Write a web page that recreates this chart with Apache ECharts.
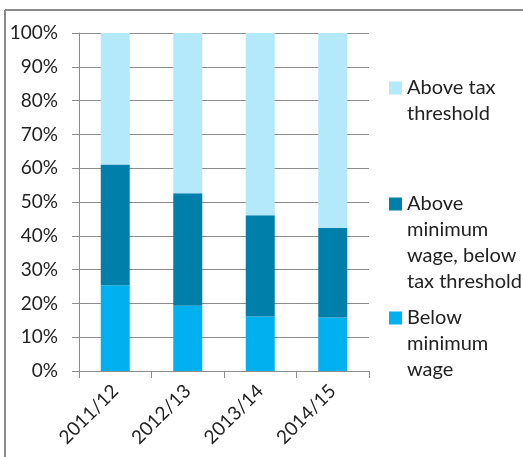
<!DOCTYPE html>
<html>
<head>
<meta charset="utf-8">
<script src="https://cdn.jsdelivr.net/npm/echarts@6/dist/echarts.min.js"></script>
<style>
  html, body { margin: 0; padding: 0; background: #fff; }
  #chart { width: 523px; height: 457px; }
</style>
</head>
<body>
<div id="chart"></div>
<script>
// Share of workers by earnings band, per tax year (percent)
const years = ['2011/12', '2012/13', '2013/14', '2014/15'];
const belowMinimumWage = [25.4, 19.3, 16.1, 15.8];
const aboveMinimumBelowTax = [35.7, 33.3, 30.0, 26.5];
const aboveTaxThreshold = [38.9, 47.4, 53.9, 57.7];
const yTicks = [0, 10, 20, 30, 40, 50, 60, 70, 80, 90, 100];

const names = {
  below: 'Below minimum wage',
  middle: 'Above minimum wage, below tax threshold',
  above: 'Above tax threshold'
};
const legendLines = {
  [names.below]: ['Below', 'minimum', 'wage'],
  [names.middle]: ['Above', 'minimum', 'wage, below', 'tax threshold'],
  [names.above]: ['Above tax', 'threshold']
};

const FONT = 'Lato';
const LINE_H = 26;
const axisGrey = '#8c8c8c';

// Legend text is vertically centred on its swatch, so blank leading
// lines are added to bring the first real line level with the swatch.
function legendLabel(name) {
  const lines = legendLines[name];
  const pad = new Array(lines.length - 1).fill(' ');
  return pad.concat(lines).join('\n');
}

// One legend per series so each entry can sit at its own height.
function legendFor(name, swatchCenterY) {
  const n = legendLines[name].length;
  return {
    data: [name],
    left: 389,
    top: swatchCenterY - (2 * n - 1) * LINE_H / 2,
    orient: 'vertical',
    padding: 0,
    itemWidth: 13,
    itemHeight: 13,
    icon: 'rect',
    selectedMode: false,
    formatter: legendLabel,
    textStyle: {
      fontFamily: FONT,
      fontSize: 20,
      color: '#222',
      lineHeight: LINE_H
    }
  };
}

const chart = echarts.init(document.getElementById('chart'), null, { renderer: 'canvas' });
chart.setOption({
  animation: false,
  backgroundColor: '#fff',
  textStyle: { fontFamily: FONT },
  graphic: [
    // frame along the top and left edges
    { type: 'line', shape: { x1: 5, y1: 10, x2: 523, y2: 10 }, style: { stroke: '#8a8a8a', lineWidth: 2 } },
    { type: 'line', shape: { x1: 5, y1: 10, x2: 5, y2: 457 }, style: { stroke: '#8a8a8a', lineWidth: 2 } }
  ],
  grid: { left: 79, right: 154, top: 33, bottom: 86, containLabel: false },
  legend: [
    legendFor(names.above, 88),
    legendFor(names.middle, 204),
    legendFor(names.below, 318)
  ],
  xAxis: {
    type: 'category',
    data: years,
    boundaryGap: true,
    axisLine: { lineStyle: { color: axisGrey, width: 1 } },
    axisTick: { show: true, length: 7, alignWithLabel: false, lineStyle: { color: axisGrey } },
    axisLabel: {
      rotate: 45,
      margin: 17,
      fontFamily: FONT,
      fontSize: 19,
      color: '#222'
    }
  },
  yAxis: {
    type: 'value',
    min: 0,
    max: 100,
    interval: 10,
    axisLine: { show: true, lineStyle: { color: axisGrey, width: 1 } },
    axisTick: { show: true, length: 7, lineStyle: { color: axisGrey } },
    splitLine: { show: true, lineStyle: { color: axisGrey, width: 1 } },
    axisLabel: {
      margin: 21,
      fontFamily: FONT,
      fontSize: 19,
      color: '#222',
      formatter: v => (yTicks.includes(v) ? v + '%' : '')
    }
  },
  series: [
    {
      name: names.below, type: 'bar', stack: 'share', data: belowMinimumWage,
      barWidth: '40%', itemStyle: { color: '#00b0ef' }
    },
    {
      name: names.middle, type: 'bar', stack: 'share', data: aboveMinimumBelowTax,
      barWidth: '40%', itemStyle: { color: '#007fab' }
    },
    {
      name: names.above, type: 'bar', stack: 'share', data: aboveTaxThreshold,
      barWidth: '40%', itemStyle: { color: '#b3e9fb' }
    }
  ]
});
</script>
</body>
</html>
